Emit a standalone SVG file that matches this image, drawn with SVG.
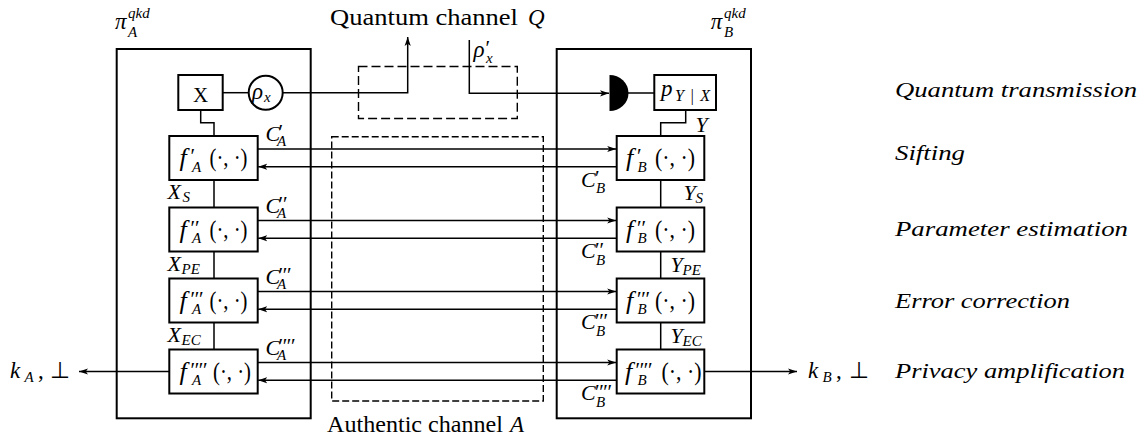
<svg xmlns="http://www.w3.org/2000/svg" width="1145" height="439" viewBox="0 0 1145 439">
<defs>
<style>
.box{fill:none;stroke:#000;stroke-width:2}
.ln{fill:none;stroke:#000;stroke-width:1.5}
.dq{fill:none;stroke:#000;stroke-width:1.4;stroke-dasharray:9 4}
.da{fill:none;stroke:#000;stroke-width:1.4;stroke-dasharray:7 3}
text{font-family:"Liberation Serif","Times New Roman",serif;fill:#000}
.i{font-style:italic}
.m{font-size:23px}
.f{font-size:26px}
.s{font-size:15px}
.pr{font-size:21px}
.lab{font-size:22px;font-style:italic}
</style>
<marker id="ah" markerWidth="10" markerHeight="8" refX="9" refY="4" orient="auto" markerUnits="userSpaceOnUse">
<path d="M0,0.9 L9,4 L0,7.1 L2.2,4 Z" fill="#000"/>
</marker>
</defs>
<rect width="1145" height="439" fill="#fff"/>

<g id="alice">
<rect class="box" x="116.7" y="49" width="194" height="369.3"/>
<text class="m i" x="115" y="28.5">π</text>
<text class="s i" x="128" y="37">A</text>
<text class="s i" x="128" y="17.5">qkd</text>
</g>

<g id="bob">
<rect class="box" x="556.7" y="49" width="194.3" height="369.3"/>
<text class="m i" x="710.7" y="28.5">π</text>
<text class="s i" x="724" y="37">B</text>
<text class="s i" x="724" y="17.5">qkd</text>
</g>

<g id="quantum-channel">
<rect class="dq" x="358.5" y="66.5" width="158.8" height="52"/>
<text class="m" x="330" y="25" textLength="188" lengthAdjust="spacingAndGlyphs">Quantum channel</text>
<text class="m i" x="528" y="25">Q</text>
</g>

<g id="authentic-channel">
<rect class="da" x="331.7" y="136.7" width="211.6" height="264.3"/>
<text class="m" x="327" y="432" textLength="176" lengthAdjust="spacingAndGlyphs">Authentic channel</text>
<text class="m i" x="510" y="432">A</text>
</g>

<g id="xbox">
<rect class="box" x="178.3" y="75" width="44.4" height="35"/>
<text x="200.5" y="101.5" font-size="21" text-anchor="middle">X</text>
</g>

<g id="rho">
<circle class="box" cx="265.7" cy="92.7" r="17"/>
<text class="m i" x="252" y="99">ρ</text>
<text class="s i" x="264" y="102">x</text>
</g>

<g id="detector">
<path d="M609.5,75 A19,18 0 0 1 609.5,111 Z" fill="#000"/>
</g>

<g id="pbox">
<rect class="box" x="654.3" y="75" width="61.7" height="35"/>
<text class="m i" x="661" y="96">p</text>
<text class="i" font-size="16" x="675" y="101" textLength="35" lengthAdjust="spacing">Y|X</text>
</g>

<!-- Alice processing boxes -->
<g id="fA1">
<rect class="box" x="169.3" y="136" width="88.4" height="44"/>
<text class="f i" x="179.5" y="166">f</text>
<text class="pr" x="190.5" y="163">′</text>
<text class="s i" x="192" y="171.5">A</text>
<text class="f" x="209.5" y="166" textLength="38" lengthAdjust="spacingAndGlyphs">(·, ·)</text>
</g>
<g id="fA2">
<rect class="box" x="169.3" y="207.5" width="88.4" height="44"/>
<text class="f i" x="179.5" y="237.5">f</text>
<text class="pr" x="190.5" y="234.5" textLength="9" lengthAdjust="spacing">′′</text>
<text class="s i" x="192" y="243">A</text>
<text class="f" x="209.5" y="237.5" textLength="38" lengthAdjust="spacingAndGlyphs">(·, ·)</text>
</g>
<g id="fA3">
<rect class="box" x="169.3" y="278.5" width="88.4" height="44"/>
<text class="f i" x="179.5" y="308.5">f</text>
<text class="pr" x="190.5" y="305.5" textLength="13" lengthAdjust="spacing">′′′</text>
<text class="s i" x="192" y="314">A</text>
<text class="f" x="209.5" y="308.5" textLength="38" lengthAdjust="spacingAndGlyphs">(·, ·)</text>
</g>
<g id="fA4">
<rect class="box" x="169.3" y="349.5" width="88.4" height="44"/>
<text class="f i" x="179.5" y="379.5">f</text>
<text class="pr" x="190.5" y="376.5" textLength="17" lengthAdjust="spacing">′′′′</text>
<text class="s i" x="192" y="385">A</text>
<text class="f" x="213" y="379.5" textLength="38" lengthAdjust="spacingAndGlyphs">(·, ·)</text>
</g>

<!-- Bob processing boxes -->
<g id="fB1">
<rect class="box" x="616.7" y="136" width="87.6" height="44"/>
<text class="f i" x="626" y="166">f</text>
<text class="pr" x="637" y="163">′</text>
<text class="s i" x="637.5" y="171.5">B</text>
<text class="f" x="655" y="166" textLength="40" lengthAdjust="spacingAndGlyphs">(·, ·)</text>
</g>
<g id="fB2">
<rect class="box" x="616.7" y="207.5" width="87.6" height="44"/>
<text class="f i" x="626" y="237.5">f</text>
<text class="pr" x="637" y="234.5" textLength="9" lengthAdjust="spacing">′′</text>
<text class="s i" x="637.5" y="243">B</text>
<text class="f" x="655" y="237.5" textLength="40" lengthAdjust="spacingAndGlyphs">(·, ·)</text>
</g>
<g id="fB3">
<rect class="box" x="616.7" y="278.5" width="87.6" height="44"/>
<text class="f i" x="626" y="308.5">f</text>
<text class="pr" x="637" y="305.5" textLength="13" lengthAdjust="spacing">′′′</text>
<text class="s i" x="637.5" y="314">B</text>
<text class="f" x="655" y="308.5" textLength="40" lengthAdjust="spacingAndGlyphs">(·, ·)</text>
</g>
<g id="fB4">
<rect class="box" x="616.7" y="349.5" width="87.6" height="44"/>
<text class="f i" x="625" y="379.5">f</text>
<text class="pr" x="635.5" y="376.5" textLength="17" lengthAdjust="spacing">′′′′</text>
<text class="s i" x="637.5" y="385">B</text>
<text class="f" x="661.5" y="379.5" textLength="40" lengthAdjust="spacingAndGlyphs">(·, ·)</text>
</g>

<g id="connectors">
<path class="ln" d="M222.7,92.7 H248.7"/>
<path class="ln" d="M282.7,92.7 H407.7 V37" marker-end="url(#ah)"/>
<path class="ln" d="M469.3,40 V93.3 H609" marker-end="url(#ah)"/>
<path class="ln" d="M628,93 H654.3"/>
<path class="ln" d="M200.7,110 V122.7 H214 V136"/>
<path class="ln" d="M685.7,110 V122.7 H660.7 V136"/>
<path class="ln" d="M214,180 V207.5 M214,251.5 V278.5 M214,322.5 V349.5"/>
<path class="ln" d="M660.7,180 V207.5 M660.7,251.5 V278.5 M660.7,322.5 V349.5"/>
<path class="ln" d="M257.7,149 H616.2" marker-end="url(#ah)"/>
<path class="ln" d="M616.7,166.7 H258.2" marker-end="url(#ah)"/>
<path class="ln" d="M257.7,220.5 H616.2" marker-end="url(#ah)"/>
<path class="ln" d="M616.7,238.2 H258.2" marker-end="url(#ah)"/>
<path class="ln" d="M257.7,291.5 H616.2" marker-end="url(#ah)"/>
<path class="ln" d="M616.7,309.2 H258.2" marker-end="url(#ah)"/>
<path class="ln" d="M257.7,362.5 H616.2" marker-end="url(#ah)"/>
<path class="ln" d="M616.7,380.2 H258.2" marker-end="url(#ah)"/>
<path class="ln" d="M169.3,371.5 H79" marker-end="url(#ah)"/>
<path class="ln" d="M704.3,371.5 H797" marker-end="url(#ah)"/>
</g>

<g id="labels">
<text class="m i" x="473.5" y="57">ρ</text>
<text class="pr" x="485.5" y="54.5">′</text>
<text class="s i" x="486" y="63">x</text>
<text class="lab" x="695.5" y="132">Y</text>

<text class="lab" x="265.5" y="141">C</text><text class="pr" x="278.5" y="139">′</text><text class="s i" x="277" y="146">A</text>
<text class="lab" x="265.5" y="212.5">C</text><text class="pr" x="278.5" y="210.5" textLength="9" lengthAdjust="spacing">′′</text><text class="s i" x="277" y="217.5">A</text>
<text class="lab" x="265.5" y="283.5">C</text><text class="pr" x="278.5" y="281.5" textLength="13" lengthAdjust="spacing">′′′</text><text class="s i" x="277" y="288.5">A</text>
<text class="lab" x="265.5" y="354.5">C</text><text class="pr" x="278.5" y="352.5" textLength="17" lengthAdjust="spacing">′′′′</text><text class="s i" x="277" y="359.5">A</text>

<text class="lab" x="581" y="186.5">C</text><text class="pr" x="595" y="185">′</text><text class="s i" x="596" y="193">B</text>
<text class="lab" x="581" y="258">C</text><text class="pr" x="595" y="256.5" textLength="9" lengthAdjust="spacing">′′</text><text class="s i" x="596" y="264.5">B</text>
<text class="lab" x="581" y="329">C</text><text class="pr" x="595" y="327.5" textLength="13" lengthAdjust="spacing">′′′</text><text class="s i" x="596" y="335.5">B</text>
<text class="lab" x="581" y="400">C</text><text class="pr" x="595" y="398.5" textLength="17" lengthAdjust="spacing">′′′′</text><text class="s i" x="596" y="406.5">B</text>

<text class="lab" x="167.5" y="199">X</text><text class="s i" x="182.5" y="202">S</text>
<text class="lab" x="167.5" y="270.5">X</text><text class="s i" x="181.5" y="273.5">PE</text>
<text class="lab" x="167.5" y="341.5">X</text><text class="s i" x="181.5" y="344.5">EC</text>

<text class="lab" x="683.5" y="200">Y</text><text class="s i" x="695.5" y="203">S</text>
<text class="lab" x="670.5" y="271.5">Y</text><text class="s i" x="682.5" y="274.5">PE</text>
<text class="lab" x="670.5" y="343">Y</text><text class="s i" x="682.5" y="346">EC</text>

<text class="m i" x="10" y="377.5">k</text><text class="s i" x="24.5" y="382">A</text><text class="m" x="38" y="377.5">,</text><text class="m" x="50" y="377.5">⊥</text>
<text class="m i" x="808" y="377.5">k</text><text class="s i" x="822.5" y="382">B</text><text class="m" x="836" y="377.5">,</text><text class="m" x="849" y="377.5">⊥</text>

<text class="lab" x="895" y="97" textLength="242" lengthAdjust="spacingAndGlyphs">Quantum transmission</text>
<text class="lab" x="895" y="160" textLength="70" lengthAdjust="spacingAndGlyphs">Sifting</text>
<text class="lab" x="895" y="236" textLength="233" lengthAdjust="spacingAndGlyphs">Parameter estimation</text>
<text class="lab" x="895" y="308" textLength="175" lengthAdjust="spacingAndGlyphs">Error correction</text>
<text class="lab" x="895" y="378" textLength="230" lengthAdjust="spacingAndGlyphs">Privacy amplification</text>
</g>
</svg>
